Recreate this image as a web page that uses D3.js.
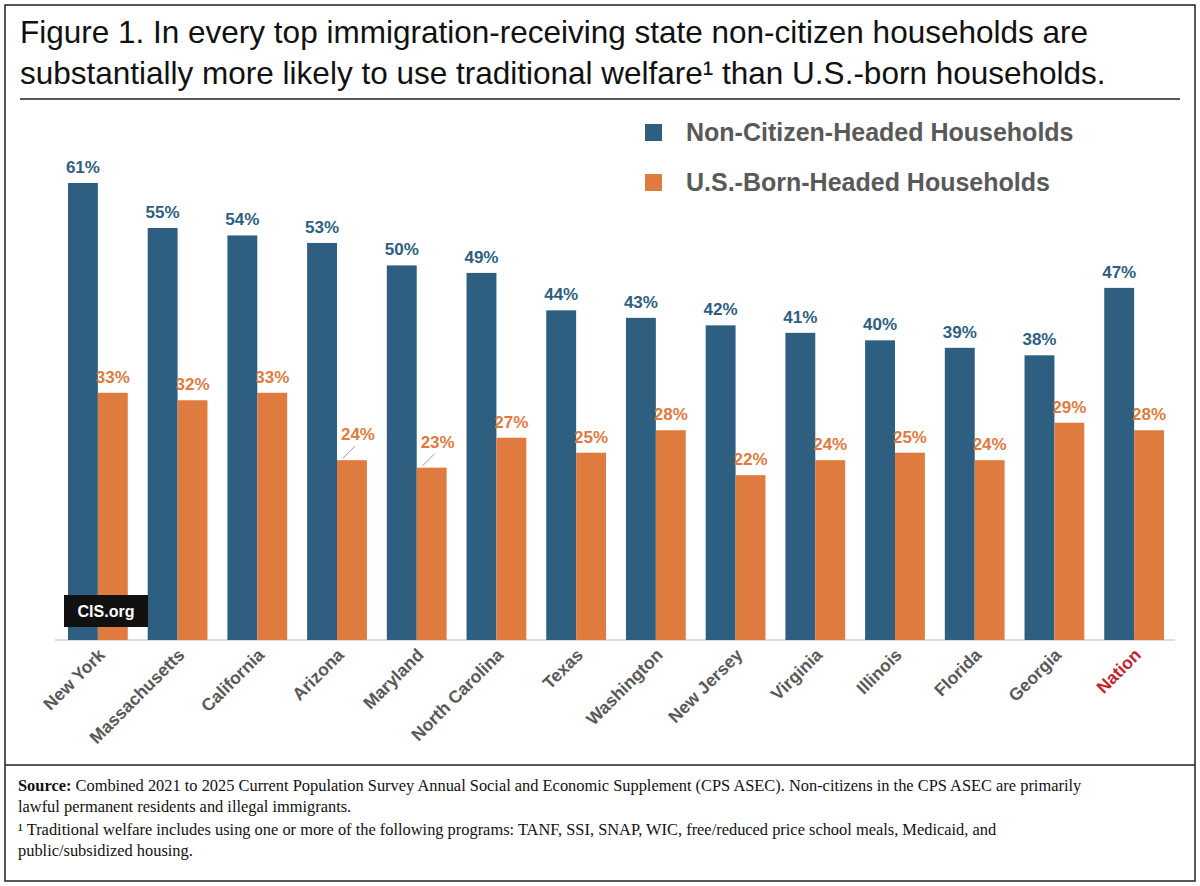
<!DOCTYPE html>
<html><head><meta charset="utf-8">
<script src="https://cdn.jsdelivr.net/npm/d3@7"></script>
<style>body{margin:0;background:#fff}</style>
</head><body>
<script>
const states = ["New York","Massachusetts","California","Arizona","Maryland","North Carolina","Texas","Washington","New Jersey","Virginia","Illinois","Florida","Georgia","Nation"];
const nonCitizen = [61,55,54,53,50,49,44,43,42,41,40,39,38,47];
const usBorn = [33,32,33,24,23,27,25,28,22,24,25,24,29,28];
const series = ["Non-Citizen-Headed Households","U.S.-Born-Headed Households"];

const blue = "#2e5f80", orange = "#e07b3f", grey = "#595959";
const W = 1200, H = 886;
const svg = d3.select("body").append("svg").attr("width", W).attr("height", H)
  .style("font-family","'Liberation Sans',Arial,sans-serif");

svg.append("rect").attr("x",5).attr("y",5).attr("width",W-10).attr("height",H-10)
  .attr("fill","none").attr("stroke","#222").attr("stroke-width",1.5);

// title
svg.append("text").attr("x",20).attr("y",43).attr("font-size",31.5).attr("fill","#111")
  .text("Figure 1. In every top immigration-receiving state non-citizen households are");
svg.append("text").attr("x",20).attr("y",84).attr("font-size",31.5).attr("fill","#111")
  .text("substantially more likely to use traditional welfare¹ than U.S.-born households.");
svg.append("line").attr("x1",20).attr("x2",1180).attr("y1",99).attr("y2",99).attr("stroke","#222").attr("stroke-width",1.5);

const x = d3.scaleBand().domain(states).range([60,1172]).paddingInner(0.25).paddingOuter(0.1);
const y = d3.scaleLinear().domain([0,61]).range([640,183]);
const bw = x.bandwidth()/2;

svg.append("line").attr("x1",55).attr("x2",1175).attr("y1",640).attr("y2",640).attr("stroke","#bbb");

const g = svg.append("g");
g.selectAll(".nc").data(states).enter().append("rect")
  .attr("x",d=>x(d)).attr("y",(d,i)=>y(nonCitizen[i])).attr("width",bw)
  .attr("height",(d,i)=>y(0)-y(nonCitizen[i])).attr("fill",blue);
g.selectAll(".ub").data(states).enter().append("rect")
  .attr("x",d=>x(d)+bw).attr("y",(d,i)=>y(usBorn[i])).attr("width",bw)
  .attr("height",(d,i)=>y(0)-y(usBorn[i])).attr("fill",orange);

g.selectAll(".ncl").data(states).enter().append("text")
  .attr("x",d=>x(d)+bw/2).attr("y",(d,i)=>y(nonCitizen[i])-10)
  .attr("text-anchor","middle").attr("font-size",17).attr("font-weight","bold").attr("fill",blue)
  .text((d,i)=>nonCitizen[i]+"%");

// orange labels; Arizona and Maryland labels are raised with leader lines
const raised = {"Arizona":true,"Maryland":true};
g.selectAll(".ubl").data(states).enter().append("text")
  .attr("x",d=>x(d)+bw*1.5+(raised[d]?6:0)).attr("y",(d,i)=>y(usBorn[i])-(raised[d]?20:10))
  .attr("text-anchor","middle").attr("font-size",17).attr("font-weight","bold").attr("fill",orange)
  .text((d,i)=>usBorn[i]+"%");
states.forEach((d,i)=>{
  if(raised[d]) g.append("line").attr("x1",x(d)+bw+6).attr("x2",x(d)+bw+18)
    .attr("y1",y(usBorn[i])-2).attr("y2",y(usBorn[i])-14).attr("stroke","#999");
});

// x labels
g.selectAll(".xl").data(states).enter().append("text")
  .attr("transform",d=>`translate(${x(d)+bw+8},${656}) rotate(-45)`)
  .attr("text-anchor","end").attr("font-size",17.5).attr("font-weight","bold")
  .attr("fill",d=>d==="Nation"?"#c0262d":grey).text(d=>d);

// legend
const lg = svg.append("g");
[blue,orange].forEach((c,i)=>{
  lg.append("rect").attr("x",645).attr("y",124+i*50).attr("width",17).attr("height",17).attr("fill",c);
  lg.append("text").attr("x",686).attr("y",141+i*50).attr("font-size",25).attr("font-weight","bold")
    .attr("fill",grey).text(series[i]);
});

// CIS.org
svg.append("rect").attr("x",64).attr("y",595).attr("width",84).attr("height",32).attr("fill","#111");
svg.append("text").attr("x",106).attr("y",617).attr("text-anchor","middle").attr("font-size",16)
  .attr("font-weight","bold").attr("fill","#fff").text("CIS.org");

// footer
svg.append("line").attr("x1",5).attr("x2",1195).attr("y1",765).attr("y2",765).attr("stroke","#222").attr("stroke-width",1.5);
const ft = svg.append("g").attr("font-family","'Liberation Serif','Times New Roman',serif").attr("font-size",16.4).attr("fill","#111");
const l1 = ft.append("text").attr("x",18).attr("y",791);
l1.append("tspan").attr("font-weight","bold").text("Source:");
l1.append("tspan").text(" Combined 2021 to 2025 Current Population Survey Annual Social and Economic Supplement (CPS ASEC). Non-citizens in the CPS ASEC are primarily");
ft.append("text").attr("x",18).attr("y",812).text("lawful permanent residents and illegal immigrants.");
ft.append("text").attr("x",18).attr("y",835).text("¹ Traditional welfare includes using one or more of the following programs:  TANF, SSI, SNAP, WIC, free/reduced price school meals, Medicaid, and");
ft.append("text").attr("x",18).attr("y",856).text("public/subsidized housing.");
</script>
</body></html>
